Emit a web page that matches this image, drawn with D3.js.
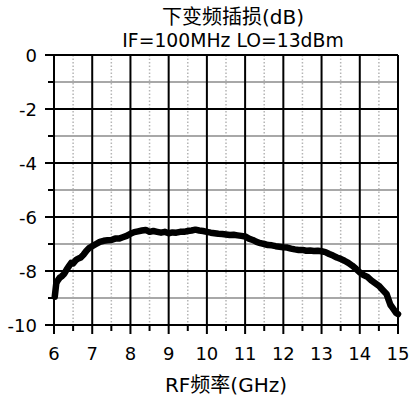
<!DOCTYPE html>
<html>
<head>
<meta charset="utf-8">
<script src="https://cdn.jsdelivr.net/npm/d3@7"></script>
<style>
  body { margin: 0; background: #fff; }
  text { font-family: "DejaVu Sans", "Noto Sans CJK SC", sans-serif; fill: #000; }
</style>
</head>
<body>
<div id="chart"></div>
<script>
// x values (GHz) and conversion loss (dB)
let freq = [6.02, 6.04, 6.06, 6.1, 6.15, 6.2, 6.27, 6.33, 6.4, 6.45, 6.5, 6.57, 6.62, 6.7, 6.77,
  6.85, 6.92, 7.0, 7.1, 7.2, 7.3, 7.4, 7.5, 7.6, 7.7, 7.8, 7.9, 8.0, 8.1, 8.2, 8.3, 8.4, 8.5,
  8.6, 8.7, 8.8, 8.9, 9.0, 9.1, 9.2, 9.3, 9.4, 9.5, 9.6, 9.7, 9.8, 9.9, 10.0, 10.1, 10.2, 10.3,
  10.4, 10.5, 10.6, 10.7, 10.8, 10.9, 11.0, 11.1, 11.2, 11.3, 11.4, 11.5, 11.6, 11.7, 11.8,
  11.9, 12.0, 12.1, 12.2, 12.3, 12.4, 12.5, 12.6, 12.7, 12.8, 12.9, 13.0, 13.1, 13.2, 13.3,
  13.4, 13.5, 13.6, 13.7, 13.8, 13.9, 14.0, 14.1, 14.2, 14.3, 14.4, 14.5, 14.6, 14.7, 14.75,
  14.8, 14.85, 14.9, 14.95, 15.0];
let loss = [-8.95, -8.7, -8.45, -8.35, -8.25, -8.2, -8.1, -7.95, -7.8, -7.7, -7.72, -7.6, -7.55,
  -7.5, -7.4, -7.25, -7.15, -7.08, -7.0, -6.92, -6.88, -6.86, -6.85, -6.8, -6.8, -6.75, -6.7,
  -6.62, -6.56, -6.53, -6.5, -6.48, -6.55, -6.52, -6.55, -6.58, -6.55, -6.6, -6.57, -6.58,
  -6.55, -6.55, -6.52, -6.5, -6.47, -6.5, -6.52, -6.55, -6.58, -6.6, -6.62, -6.63, -6.65,
  -6.67, -6.66, -6.68, -6.7, -6.72, -6.8, -6.85, -6.92, -6.97, -7.0, -7.04, -7.05, -7.08,
  -7.1, -7.12, -7.13, -7.17, -7.2, -7.22, -7.22, -7.25, -7.24, -7.26, -7.25, -7.27, -7.3,
  -7.37, -7.43, -7.5, -7.55, -7.62, -7.7, -7.8, -7.92, -8.05, -8.15, -8.22, -8.35, -8.45,
  -8.55, -8.7, -8.85, -9.05, -9.25, -9.35, -9.45, -9.55, -9.6];

let xTicks = [6, 7, 8, 9, 10, 11, 12, 13, 14, 15];
let yTicks = [0, -2, -4, -6, -8, -10];
let titleLines = ["下变频插损(dB)", "IF=100MHz LO=13dBm"];
let xTitle = "RF频率(GHz)";

let width = 411, height = 401;
let margin = { top: 55, right: 13, bottom: 76, left: 54 };

let svg = d3.select("#chart").append("svg")
  .attr("width", width)
  .attr("height", height);

let x = d3.scaleLinear().domain([6, 15]).range([margin.left, width - margin.right]);
let y = d3.scaleLinear().domain([-10, 0]).range([height - margin.bottom, margin.top]);

let plotTop = y(0), plotBottom = y(-10), plotLeft = x(6), plotRight = x(15);

// minor grid: dotted verticals on half GHz, grey horizontals on odd dB
let halfTicks = d3.range(6.5, 15, 1);
let oddTicks = [-1, -3, -5, -7, -9];

svg.append("g").selectAll("line").data(halfTicks).join("line")
  .attr("x1", d => x(d)).attr("x2", d => x(d))
  .attr("y1", plotTop).attr("y2", plotBottom)
  .attr("stroke", "#b5b5b5").attr("stroke-width", 1.5)
  .attr("stroke-dasharray", "1.5,2");

svg.append("g").selectAll("line").data(oddTicks).join("line")
  .attr("x1", plotLeft - 6).attr("x2", plotRight)
  .attr("y1", d => y(d)).attr("y2", d => y(d))
  .attr("stroke", "#a8a8a8").attr("stroke-width", 2);

// major grid
svg.append("g").selectAll("line").data(xTicks).join("line")
  .attr("x1", d => x(d)).attr("x2", d => x(d))
  .attr("y1", plotTop).attr("y2", plotBottom + 9)
  .attr("stroke", "#000").attr("stroke-width", 2);

svg.append("g").selectAll("line").data(yTicks).join("line")
  .attr("x1", plotLeft - 9).attr("x2", plotRight)
  .attr("y1", d => y(d)).attr("y2", d => y(d))
  .attr("stroke", "#000").attr("stroke-width", 2);

// short ticks under the x axis at half GHz, and odd ticks left of y axis
svg.append("g").selectAll("line").data(halfTicks).join("line")
  .attr("x1", d => x(d)).attr("x2", d => x(d))
  .attr("y1", plotBottom).attr("y2", plotBottom + 6)
  .attr("stroke", "#000").attr("stroke-width", 2);

svg.append("g").selectAll("line").data(oddTicks).join("line")
  .attr("x1", plotLeft - 6).attr("x2", plotLeft)
  .attr("y1", d => y(d)).attr("y2", d => y(d))
  .attr("stroke", "#000").attr("stroke-width", 2);

// tick labels
svg.append("g").selectAll("text").data(xTicks).join("text")
  .attr("x", d => x(d)).attr("y", plotBottom + 35)
  .attr("text-anchor", "middle")
  .attr("font-size", 18)
  .text(d => d);

svg.append("g").selectAll("text").data(yTicks).join("text")
  .attr("x", plotLeft - 17).attr("y", d => y(d) + 6.5)
  .attr("text-anchor", "end")
  .attr("font-size", 18)
  .text(d => d);

// the curve
let line = d3.line()
  .x((d, i) => x(freq[i]))
  .y(d => y(d));

svg.append("path")
  .datum(loss)
  .attr("d", line)
  .attr("fill", "none")
  .attr("stroke", "#000")
  .attr("stroke-width", 6.5)
  .attr("stroke-linejoin", "round")
  .attr("stroke-linecap", "round");

// titles
svg.append("g").selectAll("text").data(titleLines).join("text")
  .attr("x", 233).attr("y", (d, i) => 24 + i * 23)
  .attr("text-anchor", "middle")
  .attr("font-size", (d, i) => i === 0 ? 20 : 18.8)
  .text(d => d);

svg.append("text")
  .attr("x", 226).attr("y", 392)
  .attr("text-anchor", "middle")
  .attr("font-size", 20)
  .text(xTitle);
</script>
</body>
</html>
